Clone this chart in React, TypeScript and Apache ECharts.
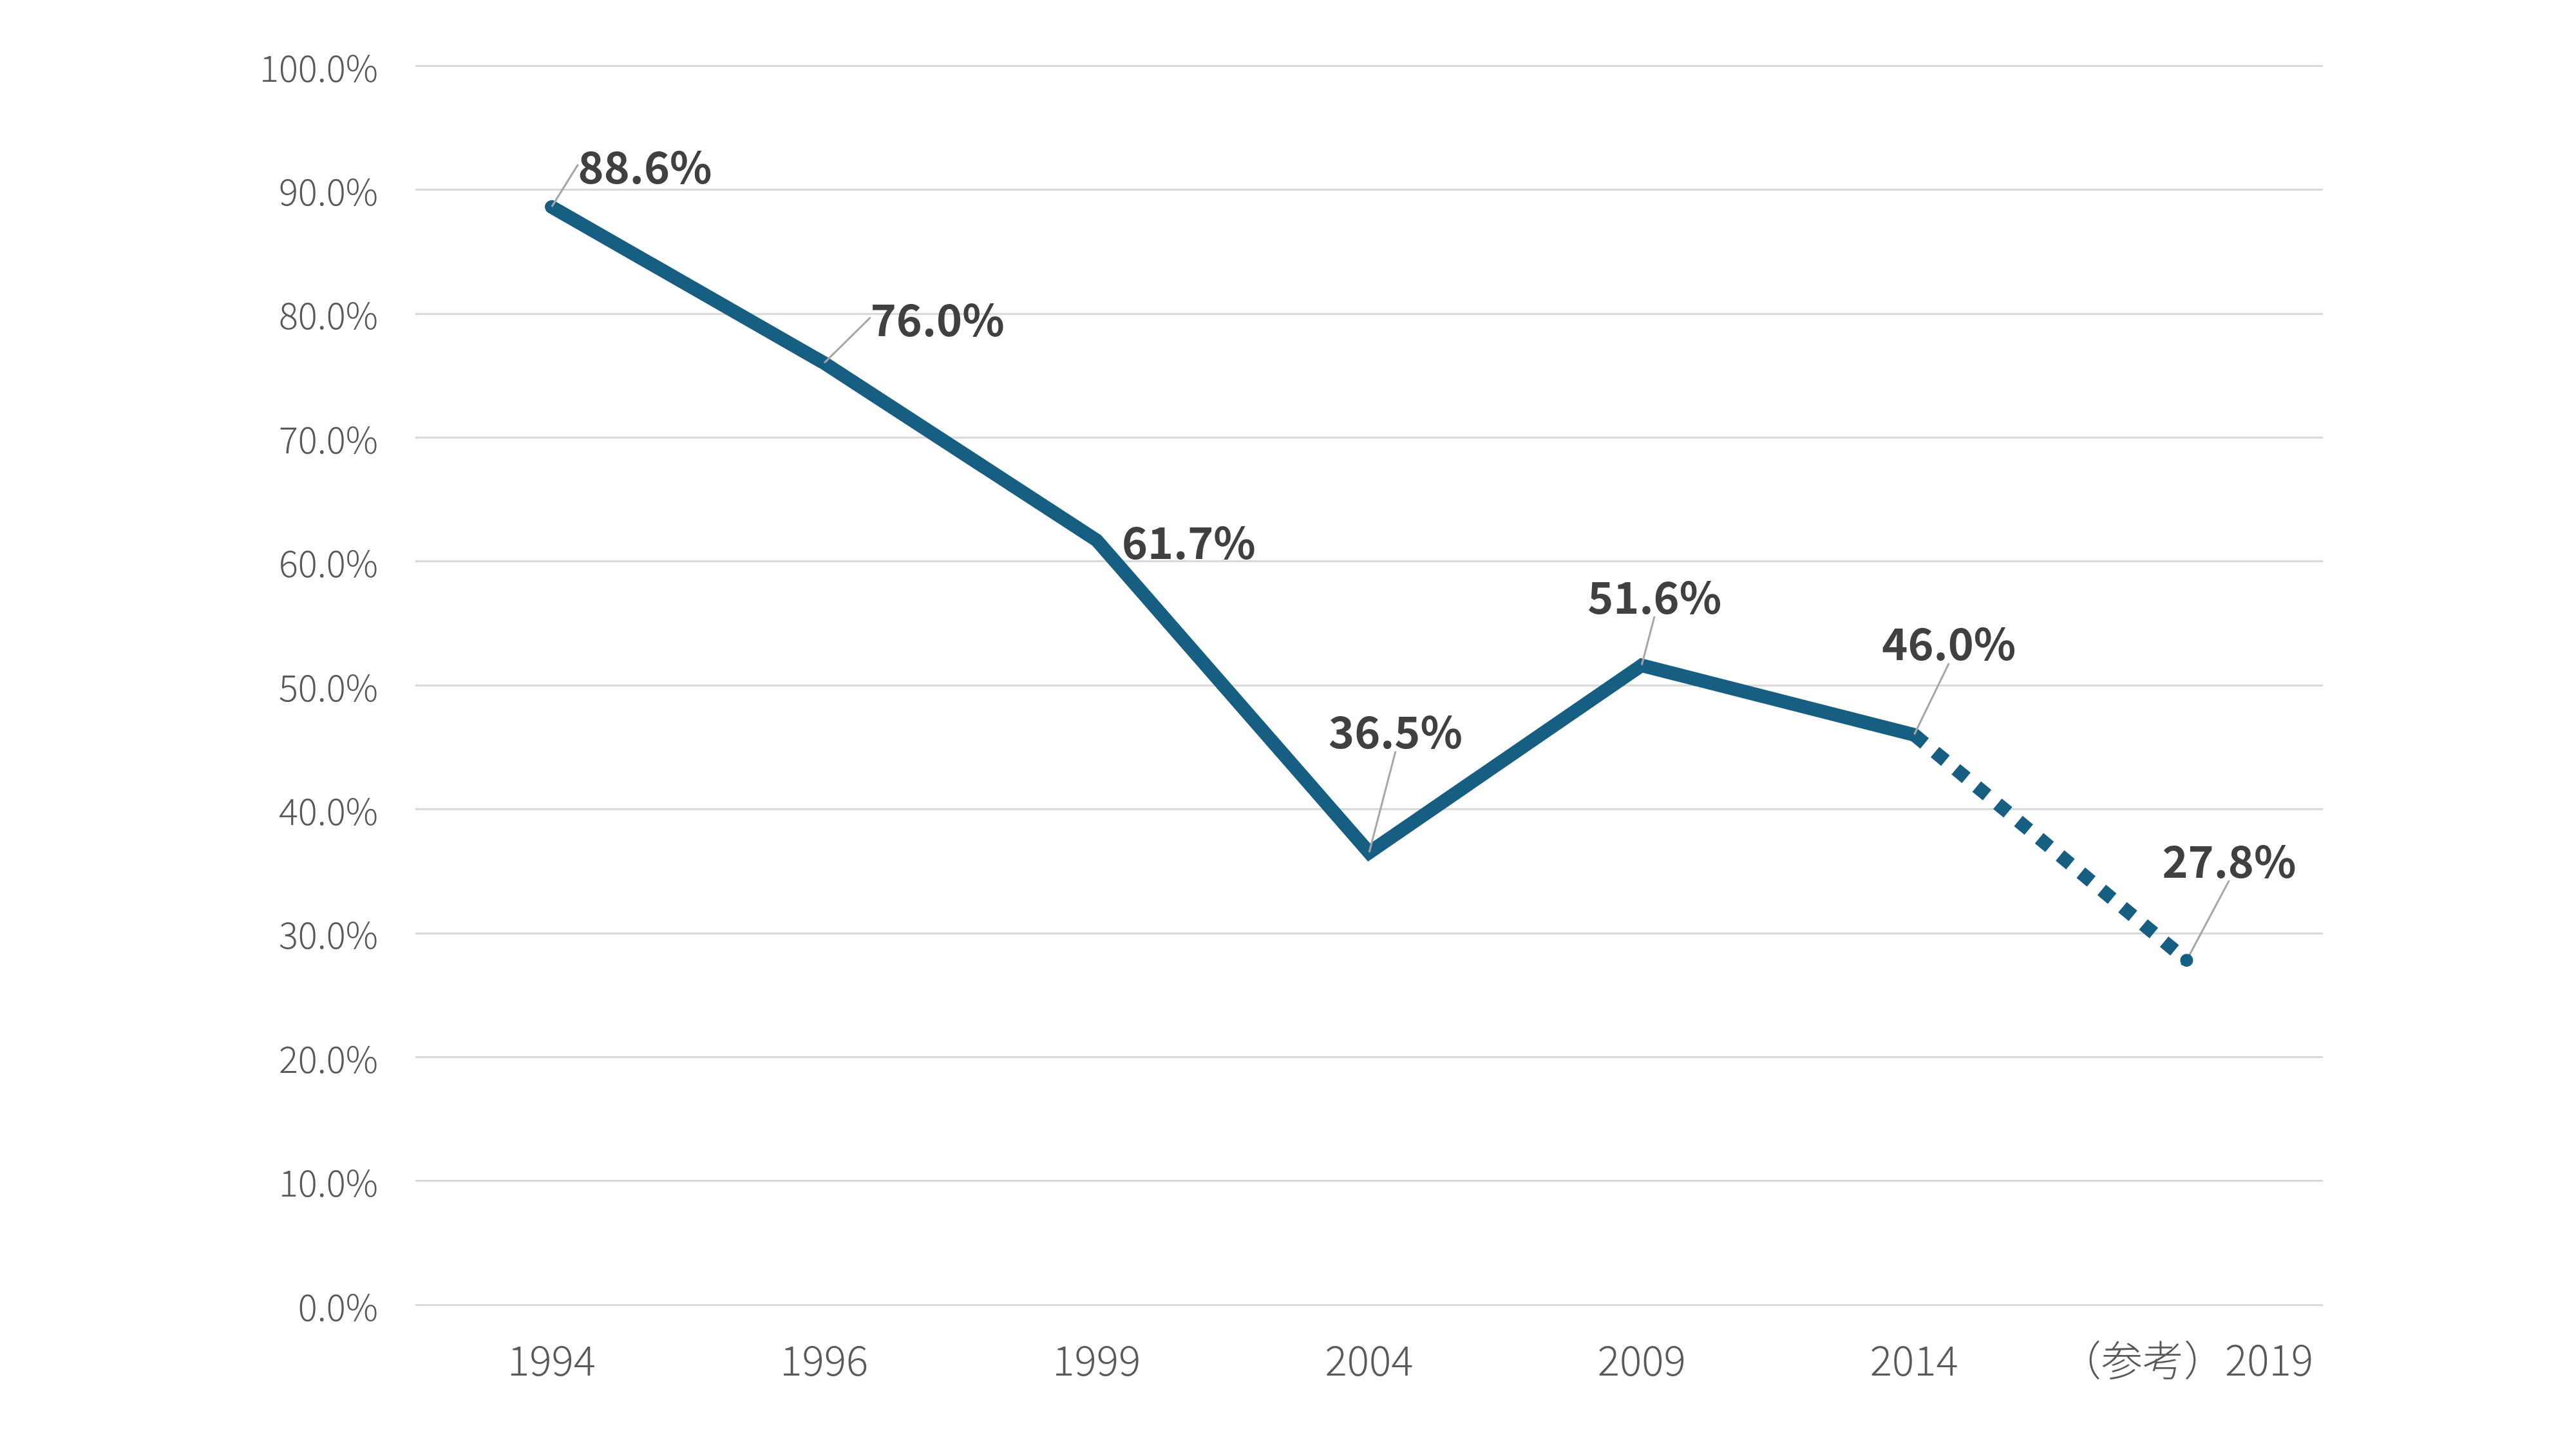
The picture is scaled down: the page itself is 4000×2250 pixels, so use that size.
import React, { useEffect, useRef } from "react";
import * as echarts from "echarts";

const categories = ["1994", "1996", "1999", "2004", "2009", "2014", "（参考）2019"];
const values = [88.6, 76.0, 61.7, 36.5, 51.6, 46.0, 27.8];
const solidCount = 6; // first six points on the solid line
const yTicks = { min: 0, max: 100, interval: 10 };

// label offsets (px) relative to each data point
const labelDx = [145, 176, 143, 41, 20, 54, 66];
const labelDy = [-66, -71, 0, -191, -110, -145, -158];
const noLeader = [2];

const FONT = "'Noto Sans CJK JP', 'Noto Sans', sans-serif";
const LINE = "#175F82";

export default function App() {
  const ref = useRef<HTMLDivElement>(null);
  useEffect(() => {
    const chart = echarts.init(ref.current!, null, { renderer: "svg" });
    const solidData = values.map((v, i) =>
      i < solidCount
        ? { value: v, labelLine: { show: !noLeader.includes(i) } }
        : null
    );
    const dottedData = values.map((v, i) => {
      if (i < solidCount - 1) return null;
      if (i === solidCount - 1) return { value: v, label: { show: false } };
      return { value: v, symbolSize: 20, label: { show: true } };
    });
    const labelCommon = {
      position: "inside",
      fontFamily: FONT,
      fontWeight: "bold",
      fontSize: 68,
      color: "#404040",
      formatter: (p: any) => `${Number(p.value).toFixed(1)}%`,
    };
    const layout = (p: any) => ({ dx: labelDx[p.dataIndex], dy: labelDy[p.dataIndex] });
    chart.setOption({
      animation: false,
      backgroundColor: "#ffffff",
      grid: { left: 645, right: 393, top: 102, bottom: 224 },
      xAxis: {
        type: "category",
        data: categories,
        boundaryGap: true,
        axisLine: { show: false },
        axisTick: { show: false },
        axisLabel: {
          interval: 0,
          fontFamily: FONT,
          fontWeight: 300,
          fontSize: 64,
          color: "#595959",
          margin: 50,
        },
      },
      yAxis: {
        type: "value",
        min: yTicks.min,
        max: yTicks.max,
        interval: yTicks.interval,
        axisLine: { show: false },
        axisTick: { show: false },
        splitLine: { lineStyle: { color: "#d9d9d9", width: 3 } },
        axisLabel: {
          fontFamily: FONT,
          fontWeight: 300,
          fontSize: 56,
          color: "#595959",
          margin: 58,
          padding: [0, 0, 8, 0],
          formatter: (v: number) => `${v.toFixed(1)}%`,
        },
      },
      series: [
        {
          type: "line",
          data: dottedData,
          showSymbol: true,
          symbol: "circle",
          symbolSize: 1,
          itemStyle: { color: LINE },
          lineStyle: { color: LINE, width: 21, type: [21, 21], cap: "butt" },
          label: { ...labelCommon, show: false },
          labelLine: { show: true, lineStyle: { color: "#a6a6a6", width: 3 } },
          labelLayout: layout,
          z: 2,
        },
        {
          type: "line",
          data: solidData,
          showSymbol: true,
          symbol: "circle",
          symbolSize: 1,
          connectNulls: false,
          itemStyle: { color: LINE },
          lineStyle: { color: LINE, width: 21, cap: "round", join: "miter" },
          label: { ...labelCommon, show: true },
          labelLine: { show: true, lineStyle: { color: "#a6a6a6", width: 3 } },
          labelLayout: layout,
          z: 3,
        },
      ],
    });
    return () => chart.dispose();
  }, []);
  return (
    <div
      ref={ref}
      style={{ position: "fixed", left: 0, top: 0, width: 4000, height: 2250, background: "#fff" }}
    />
  );
}
